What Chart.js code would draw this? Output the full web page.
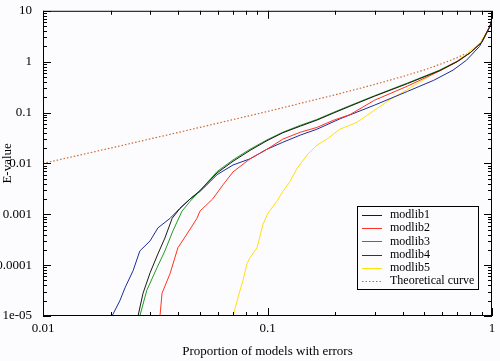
<!DOCTYPE html>
<html>
<head>
<meta charset="utf-8">
<script src="https://cdn.jsdelivr.net/npm/chart.js@4/dist/chart.umd.min.js"></script>
<style>
  html, body { margin: 0; padding: 0; background: #fcfcfe; }
  #wrap { width: 500px; height: 361px; }
</style>
</head>
<body>
<div id="wrap"><canvas id="chart" width="500" height="361"></canvas></div>
<script>
// values (x = proportion, y = E-value)
const modlib1X = [0.0265, 0.0279, 0.030, 0.0325, 0.0349, 0.0376, 0.0407, 0.0452, 0.050, 0.0596, 0.0702, 0.0836, 0.0995, 0.117, 0.14, 0.166, 0.196, 0.233, 0.30, 0.42, 0.586, 0.70, 0.80, 0.90, 0.98, 1.0];
const modlib1Y = [1e-5, 2.8e-5, 7.1e-5, 1.66e-4, 3.4e-4, 8.3e-4, 1.3e-3, 2.0e-3, 2.9e-3, 6.5e-3, 0.011, 0.018, 0.028, 0.040, 0.054, 0.071, 0.097, 0.133, 0.21, 0.37, 0.67, 1.0, 1.5, 2.4, 5, 7];

const modlib2X = [0.0332, 0.0339, 0.0368, 0.0399, 0.0438, 0.0485, 0.050, 0.057, 0.0634, 0.0702, 0.0836, 0.0995, 0.117, 0.14, 0.166, 0.196, 0.233, 0.30, 0.42, 0.586, 0.70, 0.80, 0.90, 0.98, 1.0];
const modlib2Y = [1e-5, 2.8e-5, 6.8e-5, 2.2e-4, 4.1e-4, 8.3e-4, 1.15e-3, 2.0e-3, 3.8e-3, 6.8e-3, 0.0123, 0.019, 0.030, 0.041, 0.051, 0.070, 0.091, 0.175, 0.33, 0.66, 1.0, 1.5, 2.4, 5, 7];

const modlib3X = [0.027, 0.029, 0.0322, 0.0349, 0.0379, 0.0416, 0.0452, 0.050, 0.0596, 0.0702, 0.0836, 0.0995, 0.117, 0.14, 0.166, 0.196, 0.233, 0.30, 0.42, 0.586, 0.70, 0.80, 0.90, 0.98, 1.0];
const modlib3Y = [1e-5, 3.2e-5, 8.9e-5, 1.9e-4, 4.7e-4, 1.15e-3, 1.8e-3, 2.9e-3, 6.9e-3, 0.0117, 0.019, 0.029, 0.041, 0.056, 0.073, 0.10, 0.137, 0.214, 0.38, 0.684, 1.02, 1.5, 2.4, 5, 7];

const modlib4X = [0.0203, 0.022, 0.0232, 0.0252, 0.027, 0.030, 0.0325, 0.0368, 0.0407, 0.0452, 0.050, 0.0537, 0.0596, 0.0702, 0.0836, 0.0995, 0.117, 0.14, 0.166, 0.21, 0.30, 0.42, 0.55, 0.67, 0.77, 0.88, 0.98, 1.0];
const modlib4Y = [1e-5, 2.0e-5, 3.6e-5, 7.8e-5, 1.9e-4, 3.0e-4, 5.4e-4, 8.3e-4, 1.3e-3, 2.0e-3, 2.8e-3, 3.8e-3, 6.0e-3, 9.3e-3, 0.0123, 0.019, 0.026, 0.036, 0.047, 0.075, 0.14, 0.26, 0.43, 0.68, 1.07, 2.0, 4.9, 7];

const modlib5X = [0.0702, 0.0754, 0.0778, 0.081, 0.0836, 0.0898, 0.0955, 0.1005, 0.110, 0.117, 0.126, 0.135, 0.150, 0.166, 0.184, 0.21, 0.25, 0.35, 0.418, 0.493, 0.586, 0.698, 0.774, 0.884, 0.978, 1.0];
const modlib5Y = [1e-5, 3.2e-5, 5e-5, 1.07e-4, 1.4e-4, 2.2e-4, 6.4e-4, 1.05e-3, 1.8e-3, 2.8e-3, 4.4e-3, 7.8e-3, 0.0146, 0.0229, 0.030, 0.047, 0.064, 0.178, 0.28, 0.436, 0.684, 1.02, 1.46, 2.3, 4.9, 7];

const theoryX = [0.01, 0.02, 0.05, 0.1, 0.2, 0.3, 0.4, 0.5, 0.6, 0.7, 0.75];
const theoryY = [0.01, 0.02, 0.051, 0.105, 0.223, 0.357, 0.51, 0.69, 0.92, 1.2, 1.38];

const seriesNames = ["modlib1", "modlib2", "modlib3", "modlib4", "modlib5", "Theoretical curve"];
const xTickValues = [0.01, 0.1, 1];
const xTickLabels = ["0.01", "0.1", "1"];
const yTickValues = [1e-5, 1e-4, 1e-3, 1e-2, 0.1, 1, 10];
const yTickLabels = ["1e-05", "0.0001", "0.001", "0.01", "0.1", "1", "10"];

const colors = ["#1a1a1a", "#ff3322", "#229a22", "#1a2e9a", "#ffe010", "#cc6a33"];
const serif = "'Liberation Serif', 'DejaVu Serif', serif";

const toPts = (xs, ys) => xs.map((x, i) => ({ x: x, y: ys[i] }));
const allX = [modlib1X, modlib2X, modlib3X, modlib4X, modlib5X, theoryX];
const allY = [modlib1Y, modlib2Y, modlib3Y, modlib4Y, modlib5Y, theoryY];

const datasets = seriesNames.map((name, i) => ({
  label: name,
  data: toPts(allX[i], allY[i]),
  borderColor: colors[i],
  backgroundColor: colors[i],
  borderWidth: i === 5 ? 1.2 : 1,
  borderDash: i === 5 ? [1.5, 2] : [],
  pointRadius: 0,
  tension: 0,
}));

const minorsBetween = (lo, hi) => {
  const out = [];
  for (let e = Math.log10(lo); e < Math.log10(hi) - 1e-9; e++) {
    for (let m = 2; m <= 9; m++) out.push(m * Math.pow(10, e));
  }
  return out;
};

// inward ticks on all four sides + legend inside plot
const frame = {
  id: "frame",
  afterDraw(chart) {
    const { ctx, chartArea: a, scales } = chart;
    const xs = scales.x, ys = scales.y;
    ctx.save();
    ctx.strokeStyle = "#000";
    ctx.lineWidth = 1;
    ctx.strokeRect(a.left + 0.5, a.top + 0.5, a.right - a.left - 1, a.bottom - a.top - 1);
    ctx.beginPath();
    const tickX = (v, len) => {
      const px = Math.round(xs.getPixelForValue(v)) + 0.5;
      ctx.moveTo(px, a.bottom); ctx.lineTo(px, a.bottom - len);
      ctx.moveTo(px, a.top); ctx.lineTo(px, a.top + len);
    };
    const tickY = (v, len) => {
      const py = Math.round(ys.getPixelForValue(v)) + 0.5;
      ctx.moveTo(a.left, py); ctx.lineTo(a.left + len, py);
      ctx.moveTo(a.right, py); ctx.lineTo(a.right - len, py);
    };
    xTickValues.forEach((v) => tickX(v, 8));
    minorsBetween(0.01, 1).forEach((v) => tickX(v, 4));
    yTickValues.forEach((v) => tickY(v, 8));
    minorsBetween(1e-5, 10).forEach((v) => tickY(v, 4));
    ctx.stroke();

    // legend box
    const lx = 357, ly = 206, lw = 121, lh = 83;
    ctx.fillStyle = "#fcfcfe";
    ctx.fillRect(lx, ly, lw, lh);
    ctx.strokeRect(lx + 0.5, ly + 0.5, lw, lh);
    ctx.font = "12px " + serif;
    ctx.textBaseline = "middle";
    chart.data.datasets.forEach((ds, i) => {
      const yy = ly + 9 + i * 13.2;
      ctx.beginPath();
      ctx.strokeStyle = ds.borderColor;
      ctx.setLineDash(ds.borderDash);
      ctx.moveTo(lx + 5, Math.round(yy) + 0.5);
      ctx.lineTo(lx + 25, Math.round(yy) + 0.5);
      ctx.stroke();
      ctx.setLineDash([]);
      ctx.fillStyle = "#000";
      ctx.fillText(ds.label, lx + 33, yy);
    });
    ctx.restore();
  },
};

const ctx = document.getElementById("chart").getContext("2d");
const myChart = new Chart(ctx, {
  type: "line",
  data: { datasets: datasets },
  plugins: [frame],
  options: {
    responsive: false,
    animation: false,
    layout: { padding: { top: 7, right: 8, left: 0, bottom: 0 } },
    plugins: { legend: { display: false }, tooltip: { enabled: false } },
    scales: {
      x: {
        type: "logarithmic",
        min: 0.01,
        max: 1,
        grid: { display: false },
        border: { display: false },
        afterBuildTicks: (s) => { s.ticks = xTickValues.map((v) => ({ value: v })); },
        afterFit: (s) => { s.height = 45; },
        ticks: {
          autoSkip: false,
          maxRotation: 0,
          padding: -3,
          color: "#000",
          font: { family: serif, size: 13 },
          callback: (v) => xTickLabels[xTickValues.findIndex((t) => Math.abs(Math.log10(t) - Math.log10(v)) < 1e-6)],
        },
        title: {
          display: true,
          text: "Proportion of models with errors",
          color: "#000",
          font: { family: serif, size: 13 },
          padding: { top: 14, bottom: 2 },
        },
      },
      y: {
        type: "logarithmic",
        min: 1e-5,
        max: 10,
        grid: { display: false },
        border: { display: false },
        afterBuildTicks: (s) => { s.ticks = yTickValues.map((v) => ({ value: v })); },
        afterFit: (s) => { s.width = 43; },
        ticks: {
          autoSkip: false,
          padding: 3,
          color: "#000",
          font: { family: serif, size: 13 },
          callback: (v) => yTickLabels[yTickValues.findIndex((t) => Math.abs(Math.log10(t) - Math.log10(v)) < 1e-6)],
        },
        title: {
          display: true,
          text: "E-value",
          color: "#000",
          font: { family: serif, size: 13 },
          padding: { top: 0, bottom: 2 },
        },
      },
    },
  },
});
</script>
</body>
</html>
